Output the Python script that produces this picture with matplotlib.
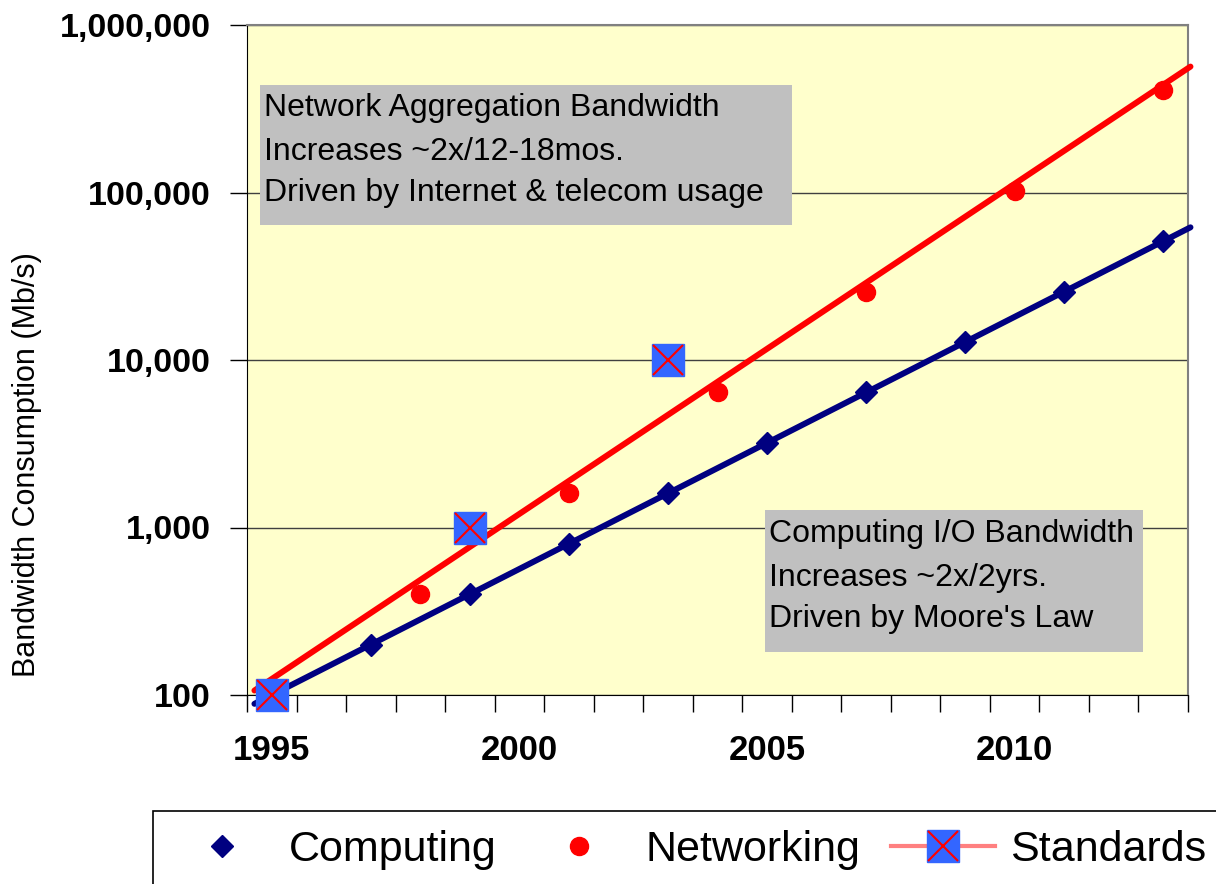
import matplotlib
matplotlib.use("Agg")
import matplotlib.pyplot as plt
from matplotlib.patches import Rectangle
from matplotlib.lines import Line2D
from matplotlib.ticker import FuncFormatter, FixedLocator
import numpy as np

comp_years = [1995, 1997, 1999, 2001, 2003, 2005, 2007, 2009, 2011, 2013]
comp_bw = [100, 200, 400, 800, 1600, 3200, 6400, 12800, 25600, 51200]

net_years = [1998, 2001, 2004, 2007, 2010, 2013]
net_bw = [400, 1600, 6400, 25600, 102400, 409600]

std_years = [1995, 1999, 2003]
std_bw = [100, 1000, 10000]

year_labels = [1995, 2000, 2005, 2010]

W, H = 1216, 884
plt.rcParams['font.family'] = ['Liberation Sans', 'DejaVu Sans']
fig = plt.figure(figsize=(W / 100, H / 100), dpi=100)
ax = fig.add_axes([247 / W, 1 - 695 / H, (1188 - 247) / W, (695 - 25) / H])
ax.set_facecolor('#FFFFCC')
ax.set_yscale('log')
ax.set_xlim(1994.5, 2013.5)
ax.set_ylim(100, 1e6)

# exponential trend lines
xs = np.linspace(1994.65, 2013.55, 50)
c = np.polyfit(comp_years, np.log10(comp_bw), 1)
n = np.polyfit(net_years + std_years, np.log10(net_bw + std_bw), 1)
ax.plot(xs, 10 ** np.polyval(n, xs), color='red', lw=4.3, solid_capstyle='round', zorder=3, clip_on=False)
ax.plot(xs, 10 ** np.polyval(c, xs), color='#000080', lw=4.3, solid_capstyle='round', zorder=3, clip_on=False)

ax.plot(comp_years, comp_bw, 'D', color='#000080', ms=11, zorder=4, clip_on=False)
ax.plot(net_years, net_bw, 'o', color='red', ms=13, zorder=4, clip_on=False)
ax.plot(std_years, std_bw, 's', color='#3366FF', ms=23, zorder=5, clip_on=False)
ax.plot(std_years, std_bw, 'x', color='red', ms=21, mew=1.5, zorder=6, clip_on=False)

# axes styling
ax.yaxis.grid(True, which='major', color='#404040', lw=1)
ax.set_axisbelow(True)
ax.yaxis.set_major_formatter(FuncFormatter(lambda v, p: f"{int(round(v)):,}"))
ax.yaxis.set_minor_locator(FixedLocator([]))
ax.tick_params(axis='y', which='major', length=12, width=1, pad=14, labelsize=24.5)
for t in ax.get_yticklabels():
    t.set_fontweight('bold')

ax.xaxis.set_major_locator(FixedLocator(np.arange(1994.5, 2014, 1)))
ax.xaxis.set_major_formatter(FuncFormatter(lambda v, p: ''))
ax.xaxis.set_minor_locator(FixedLocator(year_labels))
ax.xaxis.set_minor_formatter(FuncFormatter(lambda v, p: f"{int(v)}"))
ax.tick_params(axis='x', which='major', length=12, width=1)
ax.tick_params(axis='x', which='minor', length=0, pad=28, labelsize=25)
for t in ax.get_xticklabels(minor=True):
    t.set_fontweight('bold')

for s in ['left', 'bottom']:
    ax.spines[s].set_color('black')
for s in ['top', 'right']:
    ax.spines[s].set_color('#808080')
    ax.spines[s].set_linewidth(1.5)

fig.text(27 / W, 1 - 465 / H, 'Bandwidth Consumption (Mb/s)', rotation=90,
         ha='center', va='center', fontsize=22)

# annotation boxes
def note(x0, y0, x1, y1, lines, ys):
    fig.add_artist(Rectangle((x0 / W, 1 - y1 / H), (x1 - x0) / W, (y1 - y0) / H,
                             transform=fig.transFigure, facecolor='#C0C0C0',
                             edgecolor='none', zorder=5))
    for line, y in zip(lines, ys):
        fig.text((x0 + 4) / W, 1 - y / H, line, ha='left', va='center',
                 fontsize=23, zorder=6)

note(260, 85, 792, 225,
     ['Network Aggregation Bandwidth', 'Increases ~2x/12-18mos.',
      'Driven by Internet & telecom usage'], [108, 152, 193])
note(765, 510, 1143, 652,
     ['Computing I/O Bandwidth', 'Increases ~2x/2yrs.',
      "Driven by Moore's Law"], [534, 578, 619])

# legend
fig.add_artist(Rectangle((153 / W, -0.05), 1.1, 0.05 + (1 - 811 / H),
                         transform=fig.transFigure, facecolor='white',
                         edgecolor='black', lw=1.2))
handles = [
    Line2D([], [], ls='none', marker='D', color='#000080', ms=11),
    Line2D([], [], ls='none', marker='o', color='red', ms=13),
    (Line2D([], [], color='#FF8080', lw=3),
     Line2D([], [], ls='none', marker='s', color='#3366FF', ms=23),
     Line2D([], [], ls='none', marker='x', color='red', ms=21, mew=1.5)),
]
fig.legend(handles, ['Computing', 'Networking', 'Standards'], ncol=3,
           loc='center left', bbox_to_anchor=(170 / W, 1 - 850 / H),
           frameon=False, fontsize=31, handlelength=2.4, handletextpad=0.35,
           columnspacing=0.72, borderpad=0, borderaxespad=0)

fig.savefig('out.png', dpi=100)
